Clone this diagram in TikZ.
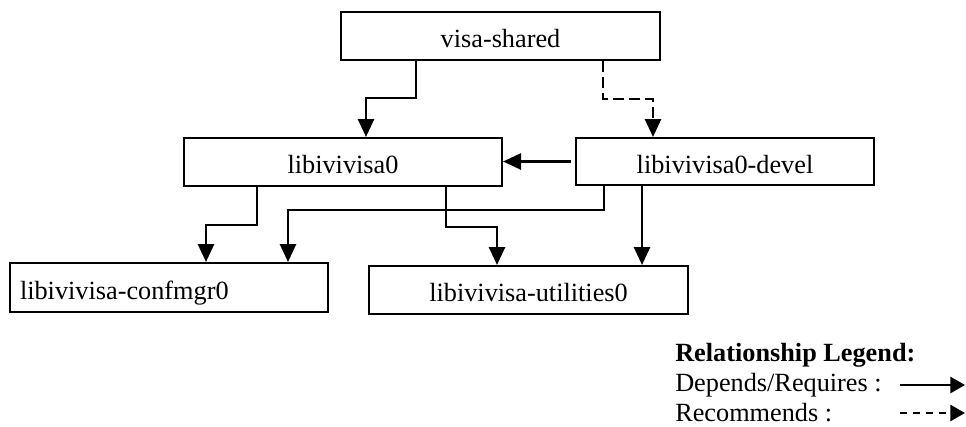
\documentclass[tikz,border=0pt]{standalone}
\usepackage{fontspec}
\setmainfont{Liberation Serif}
\usetikzlibrary{arrows.meta}
\begin{document}
\begin{tikzpicture}[x=0.75pt,y=-0.75pt,
  every node/.style={font=\fontsize{19.7}{22}\selectfont},
  pkg/.style={draw, line width=1.5pt, inner sep=0pt, text height=17.25pt, text depth=0pt, minimum height=36pt},
  dep/.style={line width=2pt, -{Triangle[length=13.5pt,width=12pt]}},
  rec/.style={dep, dash pattern=on 8pt off 4pt},
  legtxt/.style={anchor=base west, inner sep=0pt}
]
\useasboundingbox (0,0) rectangle (966,426);
% package boxes
\node[pkg, minimum width=319*0.75pt] (vs)  at (500.5,36)  {visa-shared};
\node[pkg, minimum width=318*0.75pt] (l0)  at (343,162)   {libivivisa0};
\node[pkg, minimum width=298*0.75pt, minimum height=35.25pt] (dev) at (725,161.5) {libivivisa0-devel};
\node[pkg, minimum width=318*0.75pt, minimum height=36.75pt, text width=298*0.75pt, align=left, inner xsep=7.5pt] (cm) at (169,287.5) {libivivisa-confmgr0};
\node[pkg, minimum width=319*0.75pt] (ut)  at (528.5,290) {libivivisa-utilities0};
% connectors
\draw[dep] (416,0 |- vs.south) |- (366,98) -- (366,0 |- l0.north);
\draw[rec] (603,0 |- vs.south) |- (653,99) -- (653,0 |- dev.north);
\draw[dep] ([xshift=-3pt]dev.west) -- (l0.east |- dev.west);
\draw[dep] (257,0 |- l0.south) |- (206,225) -- (206,0 |- cm.north);
\draw[dep] (604,0 |- dev.south) |- (288,210) -- (288,0 |- cm.north);
\draw[dep] (446,0 |- l0.south) |- (497,227) -- (497,0 |- ut.north);
\draw[dep] (642,0 |- dev.south) -- (642,0 |- ut.north);
% legend
\node[legtxt, font=\fontsize{19.7}{22}\selectfont\bfseries] (lt) at (675,361) {Relationship Legend:};
\node[legtxt] (ld) at (675,391) {Depends/Requires :};
\node[legtxt] (lr) at (675,421) {Recommends :};
\coordinate (d1) at (900,385);
\coordinate (d2) at (965,385);
\coordinate (r1) at (900,413);
\coordinate (r2) at (965,413);
\draw[line width=2pt, -{Triangle[length=11pt,width=12pt]}] (d1) -- (d2);
\draw[line width=2pt, dash pattern=on 5.25pt off 4.5pt, -{Triangle[length=11pt,width=12pt]}] (r1) -- (r2);
\end{tikzpicture}
\end{document}
